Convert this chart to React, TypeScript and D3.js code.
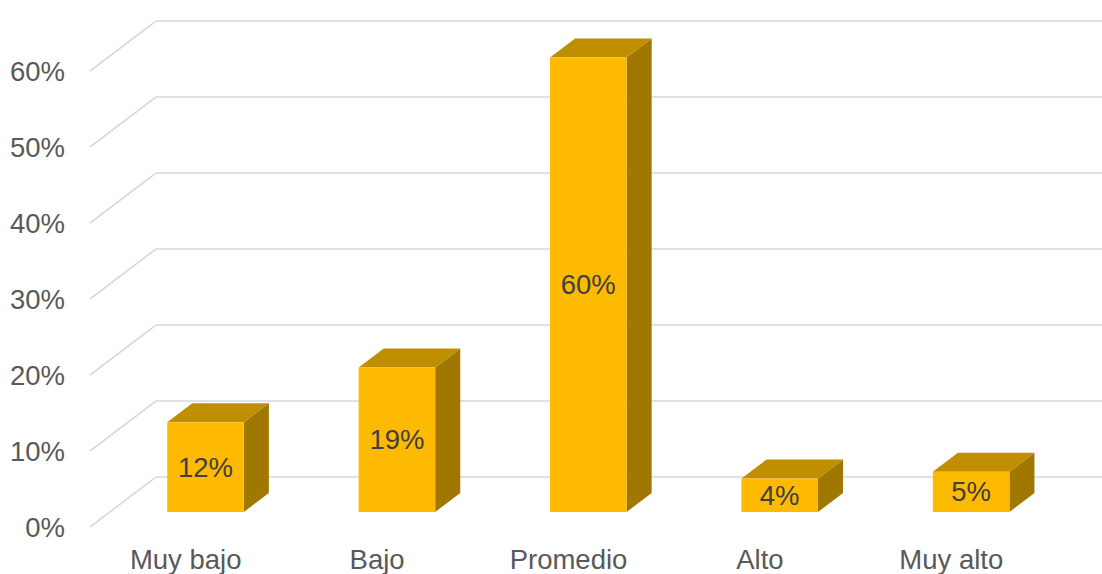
import React from "react";
import * as d3 from "d3";

const categories = ["Muy bajo", "Bajo", "Promedio", "Alto", "Muy alto"];
const values = [0.118, 0.19, 0.598, 0.044, 0.053];
const yTicks = [0, 0.1, 0.2, 0.3, 0.4, 0.5, 0.6];

const W = 1102;
const H = 574;
const DX = 66; // depth vector (back plane)
const DY = -50;
const F_FRONT = 0.3; // bar front depth fraction
const F_BACK = 0.68; // bar back depth fraction

export default function App() {
  const x = d3.scaleBand<string>().domain(categories).range([90, 1047]).paddingInner(0.6).paddingOuter(0.3);
  const y = d3.scaleLinear().domain([0, 0.6]).range([527, 71]);
  const fmt = (v: number) => d3.format(".0%")(v);
  const font = "'Liberation Sans', Arial, sans-serif";

  const fx = F_FRONT * DX, fy = F_FRONT * DY;
  const bx = F_BACK * DX, by = F_BACK * DY;
  const bw = x.bandwidth();

  return (
    <svg width={W} height={H} style={{ position: "absolute", left: 0, top: 0, background: "#fff" }}>
      {yTicks.map((t) => (
        <g key={t}>
          <polyline
            points={`90,${y(t)} ${90 + DX},${y(t) + DY} ${W},${y(t) + DY}`}
            fill="none"
            stroke="#d9d9d9"
            strokeWidth={1.6}
          />
          <text x={65} y={y(t)} dy="0.35em" textAnchor="end" fontFamily={font} fontSize={27.5} fill="#595959">
            {fmt(t)}
          </text>
        </g>
      ))}
      {categories.map((c, i) => {
        const v = values[i];
        const x0 = (x(c) as number) + fx;
        const x1 = x0 + bw;
        const yb = y(0) + fy;
        const yt = y(v) + fy;
        const ox = bx - fx, oy = by - fy;
        return (
          <g key={c}>
            <polygon points={`${x1},${yt} ${x1 + ox},${yt + oy} ${x1 + ox},${yb + oy} ${x1},${yb}`} fill="#a07800" />
            <polygon points={`${x0},${yt} ${x0 + ox},${yt + oy} ${x1 + ox},${yt + oy} ${x1},${yt}`} fill="#bf8f00" />
            <rect x={x0} y={yt} width={bw} height={yb - yt} fill="#fdba00" />
            <text x={x0 + bw / 2} y={(yt + yb) / 2} dy="0.35em" textAnchor="middle" fontFamily={font} fontSize={27.5} fill="#404040">
              {fmt(Math.round(v * 100) / 100)}
            </text>
            <text x={(x(c) as number) + bw / 2} y={569} textAnchor="middle" fontFamily={font} fontSize={27.5} fill="#595959">
              {c}
            </text>
          </g>
        );
      })}
    </svg>
  );
}
